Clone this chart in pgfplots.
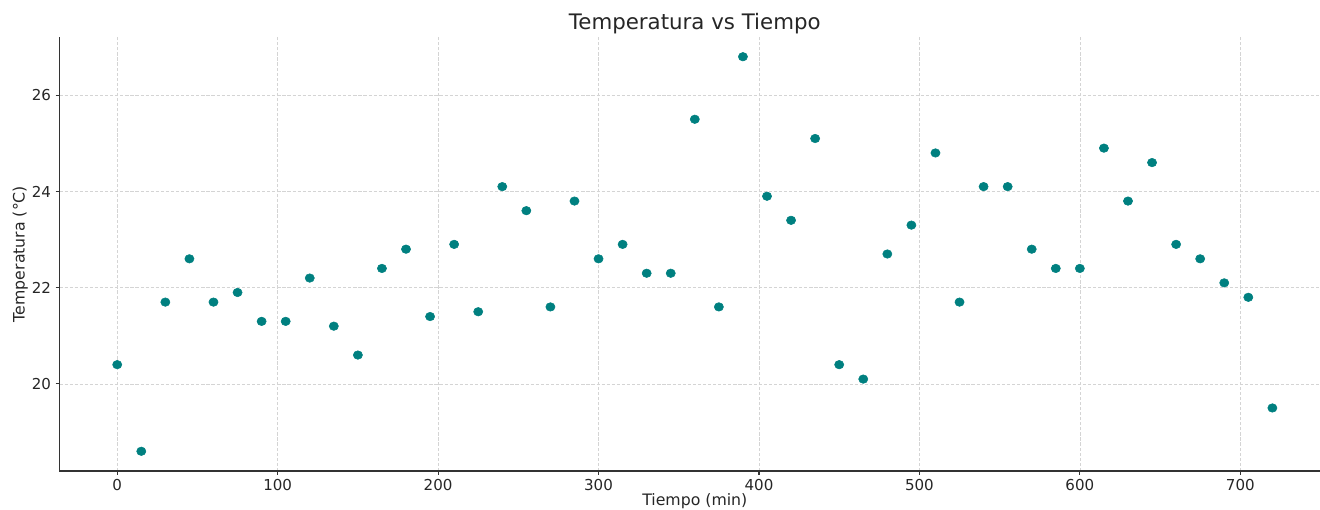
\documentclass[border=0pt]{standalone}
\usepackage{fontspec}
\setmainfont{DejaVu Sans}
\usepackage{pgfplots}
\pgfplotsset{compat=1.18}
\usetikzlibrary{calc}
\definecolor{teal}{RGB}{0,128,128}
\definecolor{txt}{RGB}{38,38,38}
\definecolor{gridc}{RGB}{212,212,212}
\begin{document}
\begin{tikzpicture}
\begin{axis}[
  name=ax,
  scale only axis,
  width=953pt, height=325.5pt,
  xmin=-36, xmax=756, ymin=18.19, ymax=27.21,
  xtick={0,100,200,300,400,500,600,700},
  ytick={20,22,24,26},
  axis x line*=bottom, axis y line*=left,
  axis line style={black!80, line width=0.8pt, -},
  tick style={black!80, line width=0.8pt},
  tick align=outside, major tick length=2.8pt,
  xmajorgrids, ymajorgrids,
  grid style={gridc, dash pattern=on 2.4pt off 1.4pt, line width=0.5pt},
  every tick label/.append style={font=\fontsize{11.3}{13}\selectfont, text=txt},
  /pgf/number format/assume math mode=true,
  xlabel={Tiempo (min)}, ylabel={Temperatura (°C)},
  label style={font=\fontsize{11.8}{13}\selectfont, text=txt},
  xlabel style={at={(axis description cs:0.5,-0.0795)}, anchor=base},
  ylabel style={at={(axis description cs:-0.0274,0.5)}, anchor=base, rotate=0},
  title={Temperatura vs Tiempo},
  title style={font=\fontsize{16}{18}\selectfont, text=txt, at={(axis description cs:0.5,0.9994)}, anchor=base},
  clip=false,
]
\addplot[only marks, mark=*, mark size=3.2pt, color=teal, mark options={draw=teal, fill=teal, xscale=1.08}] coordinates {
(0,20.4) (15,18.6) (30,21.7) (45,22.6) (60,21.7) (75,21.9) (90,21.3) (105,21.3)
(120,22.2) (135,21.2) (150,20.6) (165,22.4) (180,22.8) (195,21.4) (210,22.9) (225,21.5)
(240,24.1) (255,23.6) (270,21.6) (285,23.8) (300,22.6) (315,22.9) (330,22.3) (345,22.3)
(360,25.5) (375,21.6) (390,26.8) (405,23.9) (420,23.4) (435,25.1) (450,20.4) (465,20.1)
(480,22.7) (495,23.3) (510,24.8) (525,21.7) (540,24.1) (555,24.1) (570,22.8) (585,22.4)
(600,22.4) (615,24.9) (630,23.8) (645,24.6) (660,22.9) (675,22.6) (690,22.1) (705,21.8)
(720,19.5)
};
\end{axis}
\pgfresetboundingbox
\useasboundingbox ($(ax.south west)+(-44.6pt,-29.25pt)$) rectangle ($(ax.south west)+(945.4pt,353.25pt)$);
\end{tikzpicture}
\end{document}
